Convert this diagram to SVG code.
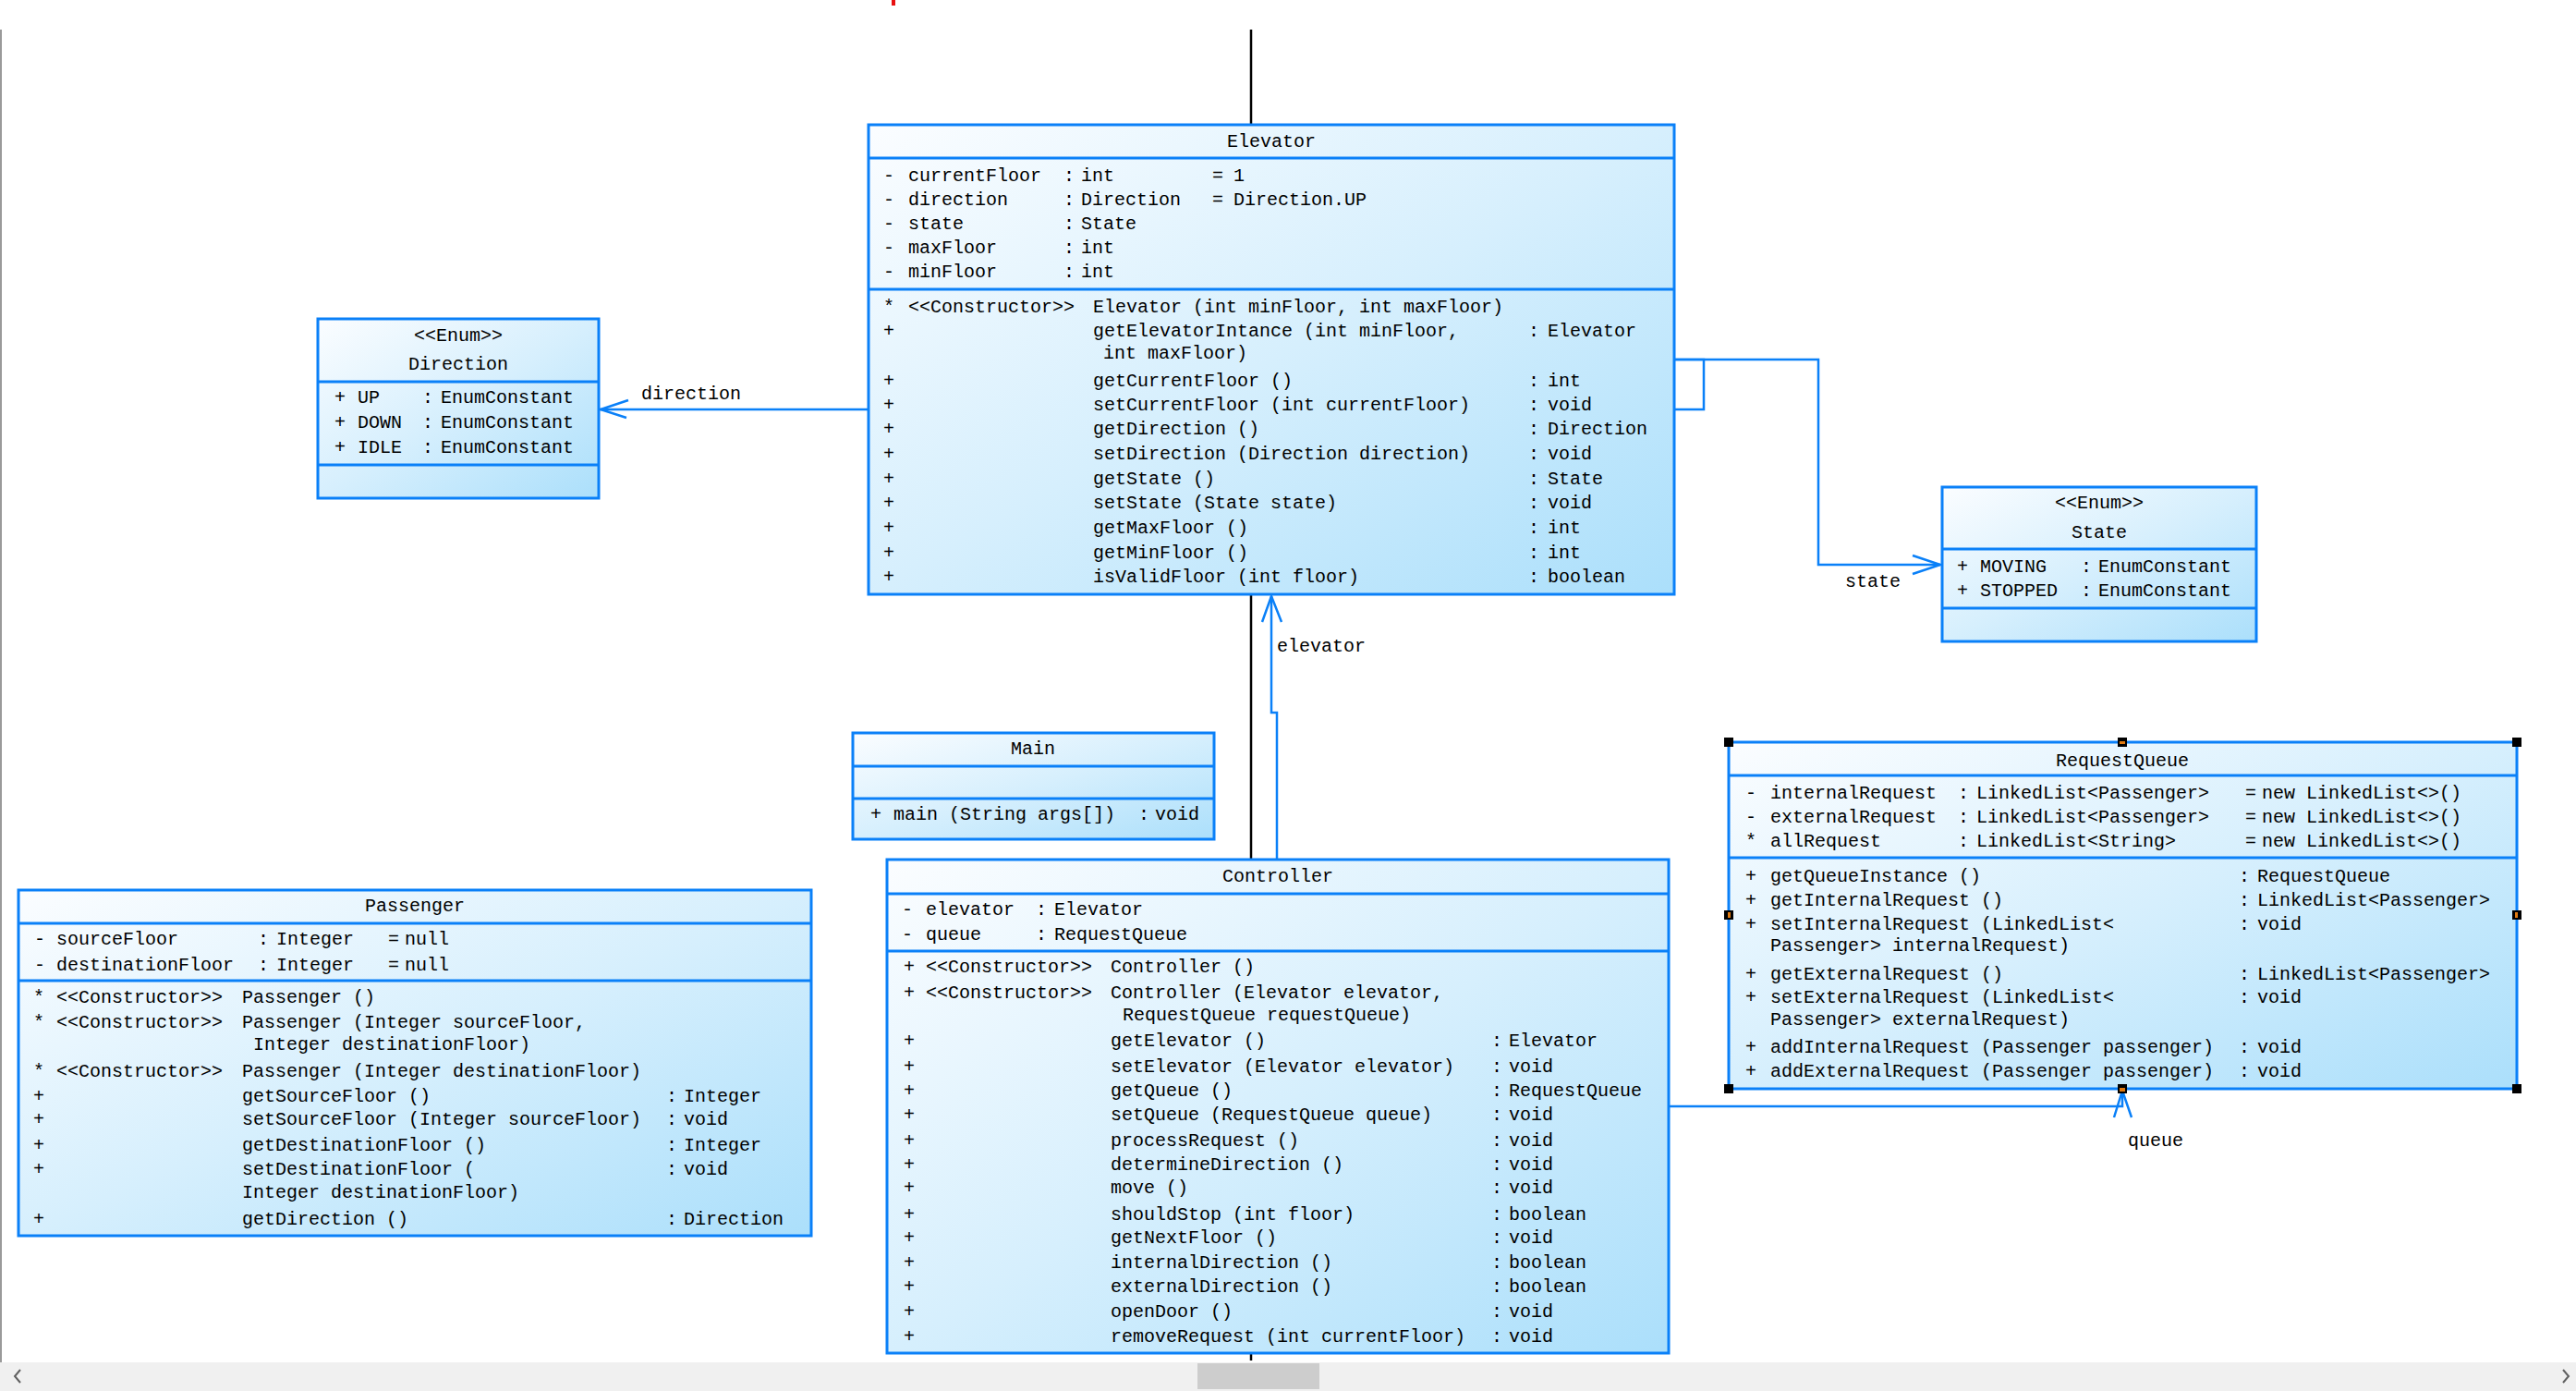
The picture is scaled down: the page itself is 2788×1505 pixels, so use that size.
<svg xmlns="http://www.w3.org/2000/svg" width="2788" height="1505" viewBox="0 0 2788 1505">
<style>
.box{fill:url(#g);stroke:#0a80f8;stroke-width:3}
.sep{stroke:#0a80f8;stroke-width:3}
text{font-family:"Liberation Mono","DejaVu Sans Mono",monospace;font-size:20px;fill:#000}
.c{text-anchor:middle}
.conn{fill:none;stroke:#0a80f8;stroke-width:2.5}
.blk{stroke:#000;stroke-width:2.5}
.h{fill:#000}
.ho{fill:#e07a10}
</style>
<defs>
<linearGradient id="g" x1="0" y1="0" x2="1" y2="1">
<stop offset="0" stop-color="#fbfdff"/>
<stop offset="0.5" stop-color="#d6effd"/>
<stop offset="1" stop-color="#abdffb"/>
</linearGradient>
</defs>
<rect x="0" y="0" width="2788" height="1505" fill="#ffffff"/>
<line x1="1" y1="32" x2="1" y2="1474" stroke="#9a9a9a" stroke-width="2"/>
<rect x="965" y="0" width="4" height="6" fill="#e81010"/>

<g id="connectors">
<line class="blk" x1="1354" y1="32" x2="1354" y2="1472"/>
<line class="conn" x1="940" y1="443" x2="648" y2="443"/>
<polyline class="conn" points="680,433 650,443 678,452"/>
<text x="694" y="432">direction</text>
<polyline class="conn" points="1812,389 1844,389 1844,443 1812,443"/>
<polyline class="conn" points="1812,389 1968,389 1968,611 2100,611"/>
<polyline class="conn" points="2070,601 2100,611 2070,621"/>
<text x="1997" y="635">state</text>
<polyline class="conn" points="1382,930 1382,771 1376,771 1376,645"/>
<polyline class="conn" points="1366,673 1376,645 1387,673"/>
<text x="1382" y="705">elevator</text>
<polyline class="conn" points="1806,1197 2297,1197 2297,1180"/>
<polyline class="conn" points="2288,1209 2297,1180 2307,1209"/>
<text x="2303" y="1240">queue</text>
</g>

<g id="Elevator">
<rect class="box" x="940" y="135" width="872" height="508"/>
<line class="sep" x1="940" y1="171" x2="1812" y2="171"/>
<line class="sep" x1="940" y1="313" x2="1812" y2="313"/>
<text class="c" x="1376" y="159">Elevator</text>
<text x="956" y="196">-</text><text x="983" y="196">currentFloor</text><text x="1151" y="196">:</text><text x="1170" y="196">int</text><text x="1312" y="196">=</text><text x="1335" y="196">1</text>
<text x="956" y="222">-</text><text x="983" y="222">direction</text><text x="1151" y="222">:</text><text x="1170" y="222">Direction</text><text x="1312" y="222">=</text><text x="1335" y="222">Direction.UP</text>
<text x="956" y="248">-</text><text x="983" y="248">state</text><text x="1151" y="248">:</text><text x="1170" y="248">State</text>
<text x="956" y="274">-</text><text x="983" y="274">maxFloor</text><text x="1151" y="274">:</text><text x="1170" y="274">int</text>
<text x="956" y="300">-</text><text x="983" y="300">minFloor</text><text x="1151" y="300">:</text><text x="1170" y="300">int</text>
<text x="956" y="338">*</text><text x="983" y="338">&lt;&lt;Constructor&gt;&gt;</text><text x="1183" y="338">Elevator (int minFloor, int maxFloor)</text>
<text x="956" y="364">+</text><text x="1183" y="364">getElevatorIntance (int minFloor,</text><text x="1654" y="364">:</text><text x="1675" y="364">Elevator</text>
<text x="1194" y="388">int maxFloor)</text>
<text x="956" y="418">+</text><text x="1183" y="418">getCurrentFloor ()</text><text x="1654" y="418">:</text><text x="1675" y="418">int</text>
<text x="956" y="444">+</text><text x="1183" y="444">setCurrentFloor (int currentFloor)</text><text x="1654" y="444">:</text><text x="1675" y="444">void</text>
<text x="956" y="470">+</text><text x="1183" y="470">getDirection ()</text><text x="1654" y="470">:</text><text x="1675" y="470">Direction</text>
<text x="956" y="497">+</text><text x="1183" y="497">setDirection (Direction direction)</text><text x="1654" y="497">:</text><text x="1675" y="497">void</text>
<text x="956" y="524">+</text><text x="1183" y="524">getState ()</text><text x="1654" y="524">:</text><text x="1675" y="524">State</text>
<text x="956" y="550">+</text><text x="1183" y="550">setState (State state)</text><text x="1654" y="550">:</text><text x="1675" y="550">void</text>
<text x="956" y="577">+</text><text x="1183" y="577">getMaxFloor ()</text><text x="1654" y="577">:</text><text x="1675" y="577">int</text>
<text x="956" y="604">+</text><text x="1183" y="604">getMinFloor ()</text><text x="1654" y="604">:</text><text x="1675" y="604">int</text>
<text x="956" y="630">+</text><text x="1183" y="630">isValidFloor (int floor)</text><text x="1654" y="630">:</text><text x="1675" y="630">boolean</text>
</g>

<g id="Direction">
<rect class="box" x="344" y="345" width="304" height="194"/>
<line class="sep" x1="344" y1="413" x2="648" y2="413"/>
<line class="sep" x1="344" y1="503" x2="648" y2="503"/>
<text class="c" x="496" y="369">&lt;&lt;Enum&gt;&gt;</text>
<text class="c" x="496" y="400">Direction</text>
<text x="362" y="436">+</text><text x="387" y="436">UP</text><text x="457" y="436">:</text><text x="477" y="436">EnumConstant</text>
<text x="362" y="463">+</text><text x="387" y="463">DOWN</text><text x="457" y="463">:</text><text x="477" y="463">EnumConstant</text>
<text x="362" y="490">+</text><text x="387" y="490">IDLE</text><text x="457" y="490">:</text><text x="477" y="490">EnumConstant</text>
</g>

<g id="State">
<rect class="box" x="2102" y="527" width="340" height="167"/>
<line class="sep" x1="2102" y1="594" x2="2442" y2="594"/>
<line class="sep" x1="2102" y1="658" x2="2442" y2="658"/>
<text class="c" x="2272" y="550">&lt;&lt;Enum&gt;&gt;</text>
<text class="c" x="2272" y="582">State</text>
<text x="2118" y="619">+</text><text x="2143" y="619">MOVING</text><text x="2252" y="619">:</text><text x="2271" y="619">EnumConstant</text>
<text x="2118" y="645">+</text><text x="2143" y="645">STOPPED</text><text x="2252" y="645">:</text><text x="2271" y="645">EnumConstant</text>
</g>

<g id="Main">
<rect class="box" x="923" y="793" width="391" height="115"/>
<line class="sep" x1="923" y1="829" x2="1314" y2="829"/>
<line class="sep" x1="923" y1="864" x2="1314" y2="864"/>
<text class="c" x="1118" y="816">Main</text>
<text x="942" y="887">+</text><text x="967" y="887">main (String args[])</text><text x="1232" y="887">:</text><text x="1250" y="887">void</text>
</g>

<g id="Controller">
<rect class="box" x="960" y="930" width="846" height="534"/>
<line class="sep" x1="960" y1="967" x2="1806" y2="967"/>
<line class="sep" x1="960" y1="1029" x2="1806" y2="1029"/>
<text class="c" x="1383" y="954">Controller</text>
<text x="976" y="990">-</text><text x="1002" y="990">elevator</text><text x="1121" y="990">:</text><text x="1141" y="990">Elevator</text>
<text x="976" y="1017">-</text><text x="1002" y="1017">queue</text><text x="1121" y="1017">:</text><text x="1141" y="1017">RequestQueue</text>
<text x="978" y="1052">+</text><text x="1002" y="1052">&lt;&lt;Constructor&gt;&gt;</text><text x="1202" y="1052">Controller ()</text>
<text x="978" y="1080">+</text><text x="1002" y="1080">&lt;&lt;Constructor&gt;&gt;</text><text x="1202" y="1080">Controller (Elevator elevator,</text>
<text x="1215" y="1104">RequestQueue requestQueue)</text>
<text x="978" y="1132">+</text><text x="1202" y="1132">getElevator ()</text><text x="1614" y="1132">:</text><text x="1633" y="1132">Elevator</text>
<text x="978" y="1160">+</text><text x="1202" y="1160">setElevator (Elevator elevator)</text><text x="1614" y="1160">:</text><text x="1633" y="1160">void</text>
<text x="978" y="1186">+</text><text x="1202" y="1186">getQueue ()</text><text x="1614" y="1186">:</text><text x="1633" y="1186">RequestQueue</text>
<text x="978" y="1212">+</text><text x="1202" y="1212">setQueue (RequestQueue queue)</text><text x="1614" y="1212">:</text><text x="1633" y="1212">void</text>
<text x="978" y="1240">+</text><text x="1202" y="1240">processRequest ()</text><text x="1614" y="1240">:</text><text x="1633" y="1240">void</text>
<text x="978" y="1266">+</text><text x="1202" y="1266">determineDirection ()</text><text x="1614" y="1266">:</text><text x="1633" y="1266">void</text>
<text x="978" y="1291">+</text><text x="1202" y="1291">move ()</text><text x="1614" y="1291">:</text><text x="1633" y="1291">void</text>
<text x="978" y="1320">+</text><text x="1202" y="1320">shouldStop (int floor)</text><text x="1614" y="1320">:</text><text x="1633" y="1320">boolean</text>
<text x="978" y="1345">+</text><text x="1202" y="1345">getNextFloor ()</text><text x="1614" y="1345">:</text><text x="1633" y="1345">void</text>
<text x="978" y="1372">+</text><text x="1202" y="1372">internalDirection ()</text><text x="1614" y="1372">:</text><text x="1633" y="1372">boolean</text>
<text x="978" y="1398">+</text><text x="1202" y="1398">externalDirection ()</text><text x="1614" y="1398">:</text><text x="1633" y="1398">boolean</text>
<text x="978" y="1425">+</text><text x="1202" y="1425">openDoor ()</text><text x="1614" y="1425">:</text><text x="1633" y="1425">void</text>
<text x="978" y="1452">+</text><text x="1202" y="1452">removeRequest (int currentFloor)</text><text x="1614" y="1452">:</text><text x="1633" y="1452">void</text>
</g>

<g id="Passenger">
<rect class="box" x="20" y="963" width="858" height="374"/>
<line class="sep" x1="20" y1="999" x2="878" y2="999"/>
<line class="sep" x1="20" y1="1061" x2="878" y2="1061"/>
<text class="c" x="449" y="986">Passenger</text>
<text x="37" y="1022">-</text><text x="61" y="1022">sourceFloor</text><text x="279" y="1022">:</text><text x="299" y="1022">Integer</text><text x="420" y="1022">=</text><text x="438" y="1022">null</text>
<text x="37" y="1050">-</text><text x="61" y="1050">destinationFloor</text><text x="279" y="1050">:</text><text x="299" y="1050">Integer</text><text x="420" y="1050">=</text><text x="438" y="1050">null</text>
<text x="36" y="1085">*</text><text x="61" y="1085">&lt;&lt;Constructor&gt;&gt;</text><text x="262" y="1085">Passenger ()</text>
<text x="36" y="1112">*</text><text x="61" y="1112">&lt;&lt;Constructor&gt;&gt;</text><text x="262" y="1112">Passenger (Integer sourceFloor,</text>
<text x="274" y="1136">Integer destinationFloor)</text>
<text x="36" y="1165">*</text><text x="61" y="1165">&lt;&lt;Constructor&gt;&gt;</text><text x="262" y="1165">Passenger (Integer destinationFloor)</text>
<text x="36" y="1192">+</text><text x="262" y="1192">getSourceFloor ()</text><text x="721" y="1192">:</text><text x="740" y="1192">Integer</text>
<text x="36" y="1217">+</text><text x="262" y="1217">setSourceFloor (Integer sourceFloor)</text><text x="721" y="1217">:</text><text x="740" y="1217">void</text>
<text x="36" y="1245">+</text><text x="262" y="1245">getDestinationFloor ()</text><text x="721" y="1245">:</text><text x="740" y="1245">Integer</text>
<text x="36" y="1271">+</text><text x="262" y="1271">setDestinationFloor (</text><text x="721" y="1271">:</text><text x="740" y="1271">void</text>
<text x="262" y="1296">Integer destinationFloor)</text>
<text x="36" y="1325">+</text><text x="262" y="1325">getDirection ()</text><text x="721" y="1325">:</text><text x="740" y="1325">Direction</text>
</g>

<g id="RequestQueue">
<rect class="box" x="1871" y="803" width="853" height="375"/>
<line class="sep" x1="1871" y1="839" x2="2724" y2="839"/>
<line class="sep" x1="1871" y1="928" x2="2724" y2="928"/>
<text class="c" x="2297" y="829">RequestQueue</text>
<text x="1889" y="864">-</text><text x="1916" y="864">internalRequest</text><text x="2119" y="864">:</text><text x="2139" y="864">LinkedList&lt;Passenger&gt;</text><text x="2430" y="864">=</text><text x="2448" y="864">new LinkedList&lt;&gt;()</text>
<text x="1889" y="890">-</text><text x="1916" y="890">externalRequest</text><text x="2119" y="890">:</text><text x="2139" y="890">LinkedList&lt;Passenger&gt;</text><text x="2430" y="890">=</text><text x="2448" y="890">new LinkedList&lt;&gt;()</text>
<text x="1889" y="916">*</text><text x="1916" y="916">allRequest</text><text x="2119" y="916">:</text><text x="2139" y="916">LinkedList&lt;String&gt;</text><text x="2430" y="916">=</text><text x="2448" y="916">new LinkedList&lt;&gt;()</text>
<text x="1889" y="954">+</text><text x="1916" y="954">getQueueInstance ()</text><text x="2423" y="954">:</text><text x="2443" y="954">RequestQueue</text>
<text x="1889" y="980">+</text><text x="1916" y="980">getInternalRequest ()</text><text x="2423" y="980">:</text><text x="2443" y="980">LinkedList&lt;Passenger&gt;</text>
<text x="1889" y="1006">+</text><text x="1916" y="1006">setInternalRequest (LinkedList&lt;</text><text x="2423" y="1006">:</text><text x="2443" y="1006">void</text>
<text x="1916" y="1029">Passenger&gt; internalRequest)</text>
<text x="1889" y="1060">+</text><text x="1916" y="1060">getExternalRequest ()</text><text x="2423" y="1060">:</text><text x="2443" y="1060">LinkedList&lt;Passenger&gt;</text>
<text x="1889" y="1085">+</text><text x="1916" y="1085">setExternalRequest (LinkedList&lt;</text><text x="2423" y="1085">:</text><text x="2443" y="1085">void</text>
<text x="1916" y="1109">Passenger&gt; externalRequest)</text>
<text x="1889" y="1139">+</text><text x="1916" y="1139">addInternalRequest (Passenger passenger)</text><text x="2423" y="1139">:</text><text x="2443" y="1139">void</text>
<text x="1889" y="1165">+</text><text x="1916" y="1165">addExternalRequest (Passenger passenger)</text><text x="2423" y="1165">:</text><text x="2443" y="1165">void</text>
<rect class="h" x="1866" y="798" width="10" height="10"/>
<rect class="h" x="2292" y="798" width="10" height="10"/><rect class="ho" x="2294" y="802" width="6" height="3"/>
<rect class="h" x="2719" y="798" width="10" height="10"/>
<rect class="h" x="1866" y="985" width="10" height="10"/><rect class="ho" x="1870" y="987" width="3" height="6"/>
<rect class="h" x="2719" y="985" width="10" height="10"/><rect class="ho" x="2722" y="987" width="3" height="6"/>
<rect class="h" x="1866" y="1173" width="10" height="10"/>
<rect class="h" x="2292" y="1173" width="10" height="10"/><rect class="ho" x="2294" y="1177" width="6" height="4"/>
<rect class="h" x="2719" y="1173" width="10" height="10"/>
</g>

<rect x="0" y="1474" width="2788" height="31" fill="#f0f0f0"/>
<rect x="1296" y="1475" width="132" height="28" fill="#cdcdcd"/>
<polyline points="22,1482 16,1489 22,1496" fill="none" stroke="#606060" stroke-width="2"/>
<polyline points="2774,1482 2780,1489 2774,1496" fill="none" stroke="#606060" stroke-width="2"/>
</svg>
